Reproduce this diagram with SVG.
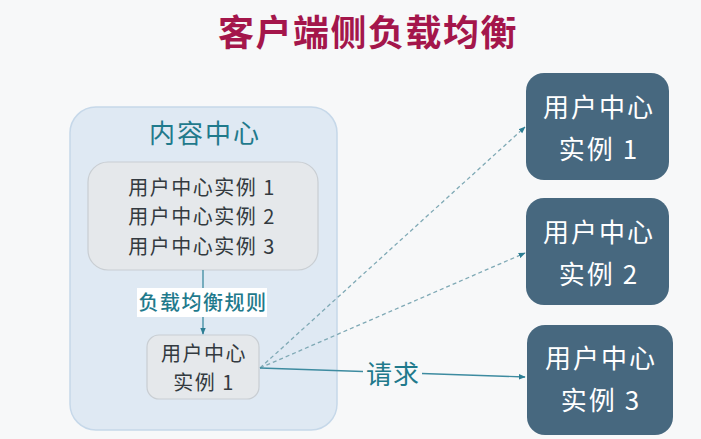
<svg xmlns="http://www.w3.org/2000/svg" width="701" height="439" viewBox="0 0 701 439">
<defs>
<style>
.cjk{font-family:"Noto Sans CJK SC","Noto Sans",sans-serif}
.title{font-size:36px;font-weight:bold;fill:#a4164b;letter-spacing:1.5px}
.dark{font-size:20px;fill:#333a40;letter-spacing:1.5px}
.white{font-size:26px;fill:#ffffff;letter-spacing:2px}
.teal{fill:#1f7a8c}
.srv{fill:#47687f}
.conn{stroke:#3d8ba0;stroke-width:1.3;fill:none}
.dash{stroke-dasharray:4 3;stroke:#7fa9b5}
</style>
<marker id="ah" viewBox="0 0 10 10" refX="9" refY="5" markerWidth="7" markerHeight="7" orient="auto" markerUnits="userSpaceOnUse">
<path d="M0,1 L10,5 L0,9 z" fill="#2c7d93"/>
</marker>
</defs>
<rect width="701" height="439" fill="#f7f8f9"/>
<text class="cjk title" x="368" y="46" text-anchor="middle">客户端侧负载均衡</text>

<g id="content-center">
<rect x="70" y="107" width="267" height="323" rx="26" fill="#dfe9f3" stroke="#c6d8e9" stroke-width="1.5"/>
<text class="cjk teal" x="205" y="143" font-size="26" letter-spacing="2" text-anchor="middle">内容中心</text>
</g>

<g id="instance-list">
<rect x="88" y="162" width="230" height="108" rx="20" fill="#e5e8eb" stroke="#c9ced3" stroke-width="1.2"/>
<text class="cjk dark" x="202" y="195" text-anchor="middle">用户中心实例 1</text>
<text class="cjk dark" x="202" y="224" text-anchor="middle">用户中心实例 2</text>
<text class="cjk dark" x="202" y="254" text-anchor="middle">用户中心实例 3</text>
</g>

<g id="local-instance">
<rect x="147" y="335" width="112" height="64" rx="12" fill="#e5e8eb" stroke="#c9ced3" stroke-width="1.2"/>
<text class="cjk dark" x="204" y="361" text-anchor="middle">用户中心</text>
<text class="cjk dark" x="204" y="390" text-anchor="middle">实例 1</text>
</g>

<g id="server-1">
<rect x="526" y="73" width="143" height="107" rx="18" class="srv"/>
<text class="cjk white" x="599" y="117" text-anchor="middle">用户中心</text>
<text class="cjk white" x="599" y="159" text-anchor="middle">实例 1</text>
</g>
<g id="server-2">
<rect x="526" y="198" width="143" height="107" rx="18" class="srv"/>
<text class="cjk white" x="599" y="242" text-anchor="middle">用户中心</text>
<text class="cjk white" x="599" y="284" text-anchor="middle">实例 2</text>
</g>
<g id="server-3">
<rect x="527" y="325" width="146" height="110" rx="18" class="srv"/>
<text class="cjk white" x="601" y="368" text-anchor="middle">用户中心</text>
<text class="cjk white" x="601" y="410" text-anchor="middle">实例 3</text>
</g>

<g id="connectors">
<line class="conn" x1="203" y1="270" x2="203" y2="334" marker-end="url(#ah)"/>
<rect x="137" y="288" width="130" height="29" fill="#ffffff"/>
<text class="cjk teal" x="203" y="310" font-size="20" font-weight="500" letter-spacing="1.5" text-anchor="middle">负载均衡规则</text>
<line class="conn dash" x1="260" y1="368" x2="525" y2="127" marker-end="url(#ah)"/>
<line class="conn dash" x1="260" y1="368" x2="525" y2="253" marker-end="url(#ah)"/>
<line class="conn" x1="260" y1="368" x2="525" y2="377" marker-end="url(#ah)"/>
<rect x="363" y="359" width="59" height="30" fill="#f7f8f9"/>
<text class="cjk teal" x="393" y="384" font-size="26" letter-spacing="1" text-anchor="middle">请求</text>
</g>
</svg>
